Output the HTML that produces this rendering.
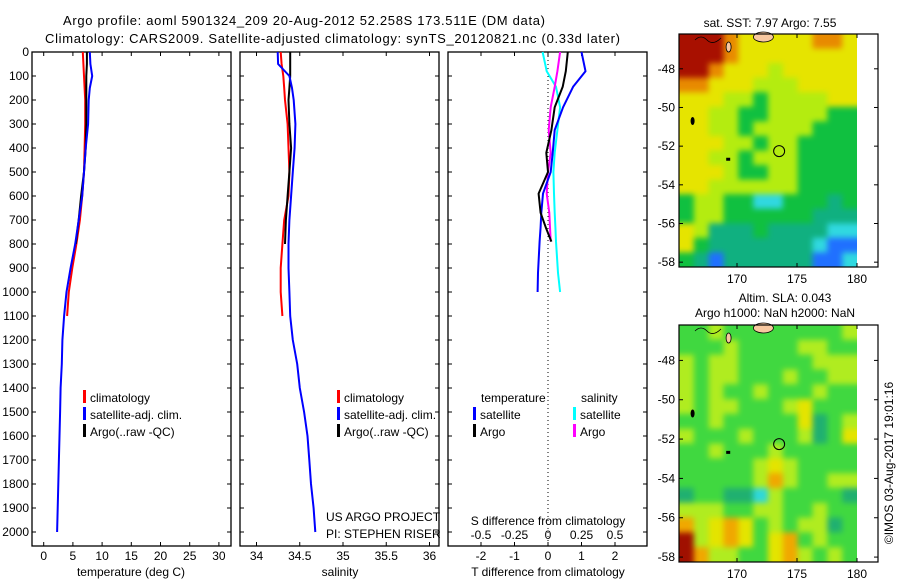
<!DOCTYPE html>
<html><head><meta charset="utf-8"><style>
body{margin:0;background:#fff;}
svg{display:block;font-family:"Liberation Sans",sans-serif;}
text{fill:#000;}
</style></head><body>
<svg id="fig" width="900" height="580" viewBox="0 0 900 580" xmlns="http://www.w3.org/2000/svg">
<defs>
<clipPath id="clip1"><rect x="679" y="34" width="178" height="233"/></clipPath>
<clipPath id="clip2"><rect x="679" y="325" width="178" height="237"/></clipPath>
</defs>
<text x="63" y="25" font-size="13" textLength="482">Argo profile: aoml 5901324_209 20-Aug-2012 52.258S 173.511E (DM data)</text>
<text x="45" y="43" font-size="13" textLength="575">Climatology: CARS2009. Satellite-adjusted climatology: synTS_20120821.nc (0.33d later)</text>
</svg>
<script>
// ---- data ----
const depthsT = [0,50,100,150,200,300,400,500,600,700,800,900,1000,1100,1200,1300,1400,1500,1600,1700,1800,1900,2000];
const tempClim = [6.7,6.8,6.9,7.0,7.1,7.1,7.0,6.9,6.6,6.2,5.6,4.9,4.3,4.0];
const tempSat = [7.9,8.0,8.3,7.9,7.7,7.6,7.2,6.9,6.6,6.0,5.4,4.6,3.9,3.5,3.2,3.1,2.9,2.8,2.7,2.6,2.5,2.4,2.3];
const tempArgo = [7.4,7.4,7.3,7.3,7.3,7.3,7.2,6.9,6.4,6.0,5.5];
const salClim = [34.28,34.29,34.31,34.32,34.33,34.36,34.37,34.38,34.37,34.32,34.30,34.28,34.28,34.30];
const salSat = [34.245,34.25,34.38,34.41,34.43,34.45,34.44,34.42,34.40,34.38,34.37,34.37,34.38,34.39,34.42,34.47,34.50,34.55,34.59,34.61,34.63,34.66,34.68];
const salArgo = [34.39,34.39,34.39,34.38,34.37,34.38,34.40,34.38,34.36,34.34,34.33];
const diffDepths = [0,80,145,230,325,420,500,590,670,730,790,920,1000];
const dTsat = [1.0,1.12,0.75,0.45,0.2,0.14,0.08,-0.15,-0.2,-0.22,-0.25,-0.3,-0.31];
const dTargo = [0.59,0.53,0.44,0.2,0.1,-0.05,0.0,-0.28,-0.22,-0.07,0.1];
const dSsat = [-0.04,-0.01,0.06,0.09,0.07,0.05,0.04,0.045,0.05,0.055,0.06,0.075,0.09];
const dSargo = [0.09,0.07,0.05,0.02,0.005,0.02,0.0,-0.01,0.01,0.015,0.02];
const depthTicks = [0,100,200,300,400,500,600,700,800,900,1000,1100,1200,1300,1400,1500,1600,1700,1800,1900,2000];
const tempTicks = [0,5,10,15,20,25,30];
const salTicks = [34,34.5,35,35.5,36];
const dTTicks = [-2,-1,0,1,2];
const dSTickLabels = ["-0.5","-0.25","0","0.25","0.5"];
const dSTicks = [-0.5,-0.25,0,0.25,0.5];
const latTicks = [-48,-50,-52,-54,-56,-58];
const lonTicks = [170,175,180];
const argoLat = -52.258, argoLon = 173.511;
// map colour grids (12 cols x 16 rows, north to south)
const sstGrid = ["dddoyyyyyooy","dddoyyyyyyyy","ddoyyylyyyyy","ooyyylllyyyy","yyyllgllllyy","yyllggllllgg","yyllgllllggg","yyyllgllgggg","yyllglllgggg","yyylggllgggg","yyllllllgggg","gllggccgggtg","gllggggggttt","yltttgttttcc","ygtttttttcbb","gtbttttttbbc"];
const slaGrid = ["gglggggggggl","ggglggggllgg","lgllggggglll","lgllggglggll","lglgglggglgg","lgllggglyggg","gglgggggytgl","lggglgggltgy","gglggglggggg","ggggglylgggg","ggggglolggll","tggttclggggt","lllggllgglgg","olyoyglglltg","dlyoygyoglgg","dollggyolglg"];
const sstCol = {d:"#a81000",o:"#e88a00",y:"#e6e400",l:"#b4ec10",g:"#10c040",t:"#10b080",c:"#30d8e0",b:"#2070ff"};
const slaCol = {d:"#a01000",o:"#f0a800",y:"#e4e400",l:"#b0ec20",g:"#40d840",t:"#20b070",c:"#30d8d8",b:"#2070ff"};

const NS = "http://www.w3.org/2000/svg";
const svg = document.getElementById('fig');
function mk(tag, attrs, parent){ const e=document.createElementNS(NS,tag); for(const k in attrs) e.setAttribute(k,attrs[k]); (parent||svg).appendChild(e); return e; }
function txt(x,y,s,size,anchor,parent){ const t=mk('text',{x:x,y:y,'font-size':size||12,'text-anchor':anchor||'start'},parent); t.textContent=s; return t; }

const TOP=52, BOT=546;
const yD = d => TOP + d*0.24;
const panels = [
 {x0:32,x1:231, f:v=>43.7+v*5.84, name:'temperature-panel'},
 {x0:240,x1:439, f:v=>256.5+(v-34)*86.5, name:'salinity-panel'},
 {x0:448,x1:647, f:v=>548+v*33.5, name:'difference-panel'}
];
const fS = v => 548 + v*134;

panels.forEach((p,i)=>{
  const g = mk('g',{});
  
  
  const r = mk('rect',{x:p.x0,y:TOP,width:p.x1-p.x0,height:BOT-TOP,fill:'none',stroke:'#000','stroke-width':1.3},g);
  
  
  depthTicks.forEach(d=>{
    mk('line',{x1:p.x0,x2:p.x0+4,y1:yD(d),y2:yD(d),stroke:'#000'},g);
    mk('line',{x1:p.x1,x2:p.x1-4,y1:yD(d),y2:yD(d),stroke:'#000'},g);
  });
});
depthTicks.forEach(d=>{
  const t = txt(29, yD(d)+4, String(d), 12, 'end');
  
  
});
function xticks(p, ticks, labels, ly){
  ticks.forEach((v,k)=>{
    const x=p.f(v);
    mk('line',{x1:x,x2:x,y1:TOP,y2:TOP+4,stroke:'#000'});
    mk('line',{x1:x,x2:x,y1:BOT,y2:BOT-4,stroke:'#000'});
    const t = txt(x, ly, labels?labels[k]:String(v), 12, 'middle');
    
    
  });
}
xticks(panels[0], tempTicks, null, 560);
xticks(panels[1], salTicks, null, 560);
xticks(panels[2], dTTicks, null, 560);
dSTicks.forEach((v,k)=>{
  const t = txt(fS(v), 539, dSTickLabels[k], 12, 'middle');
  
  
});
let t;
t=txt(131,576,'temperature (deg C)',12,'middle');  
t=txt(340,576,'salinity',12,'middle');  
t=txt(548,576,'T difference from climatology',12,'middle');  
t=txt(548,525,'S difference from climatology',12,'middle');  
const zl = mk('line',{x1:548,x2:548,y1:TOP,y2:BOT,stroke:'#000','stroke-dasharray':'1,3'});



function stepLine(vals, depths, fx, color, name){
  let d='';
  vals.forEach((v,k)=>{
    const x=fx(v), y=yD(depths[k]);
    d += (k? 'L':'M') + x.toFixed(1) + ' ' + y.toFixed(1);
  });
  const p = mk('path',{d:d,fill:'none',stroke:color,'stroke-width':2,'stroke-linejoin':'round'});
  
  
}
stepLine(tempClim, depthsT, panels[0].f, '#ff0000', 'temp-climatology-line');
stepLine(tempArgo, depthsT, panels[0].f, '#000000', 'temp-argo-line');
stepLine(tempSat, depthsT, panels[0].f, '#0000ff', 'temp-satellite-line');
stepLine(salClim, depthsT, panels[1].f, '#ff0000', 'sal-climatology-line');
stepLine(salArgo, depthsT, panels[1].f, '#000000', 'sal-argo-line');
stepLine(salSat, depthsT, panels[1].f, '#0000ff', 'sal-satellite-line');
stepLine(dSsat, diffDepths, fS, '#00ffff', 's-diff-satellite-line');
stepLine(dSargo, diffDepths, fS, '#ff00ff', 's-diff-argo-line');
stepLine(dTsat, diffDepths, panels[2].f, '#0000ff', 't-diff-satellite-line');
stepLine(dTargo, diffDepths, panels[2].f, '#000000', 't-diff-argo-line');

function legend(x, y, color, label, name){
  const g = mk('g',{});
  
  
  mk('rect',{x:x,y:y-10,width:3,height:13,fill:color},g);
  txt(x+7,y+2,label,12,'start',g);
}
legend(83,400,'#ff0000','climatology','legend-climatology');
legend(83,417,'#0000ff','satellite-adj. clim.','legend-satellite-adj');
legend(83,434,'#000000','Argo(..raw -QC)','legend-argo');
legend(337,400,'#ff0000','climatology','legend-sal-climatology');
legend(337,417,'#0000ff','satellite-adj. clim.','legend-sal-satellite-adj');
legend(337,434,'#000000','Argo(..raw -QC)','legend-sal-argo');
t=txt(481,402,'temperature',12);  
t=txt(581,402,'salinity',12);  
legend(473,417,'#0000ff','satellite','legend-t-satellite');
legend(473,434,'#000000','Argo','legend-t-argo');
legend(573,417,'#00ffff','satellite','legend-s-satellite');
legend(573,434,'#ff00ff','Argo','legend-s-argo');
t=txt(326,521,'US ARGO PROJECT',12);  
t=txt(326,538,'PI: STEPHEN RISER',12);  

function drawMap(grid, cols, top, bot, clipId, name){
  const L=679, R=878, px=12, x180=857;
  const fLon = lon => x180 + (lon-180)*px;
  const latTop = -46.2, latBot = -58.25;
  const fLat = lat => top + (latTop-lat)/(latTop-latBot)*(bot-top);
  const g = mk('g',{});
  
  
  const cg = mk('g',{'clip-path':'url(#'+clipId+')'},g);
  const bg = mk('g',{style:'filter:blur(3px)'},cg);
  const nr=grid.length, nc=grid[0].length;
  const cw=(x180-L)/nc, ch=(bot-top)/nr;
  grid.forEach((row,r)=>{
    for(let c=0;c<nc;c++){
      let x=L+c*cw, y=top+r*ch, w=cw+0.5, h=ch+0.5;
      if(c===0){x-=12;w+=12;} if(c===nc-1){w+=12;}
      if(r===0){y-=12;h+=12;} if(r===nr-1){h+=12;}
      mk('rect',{x:x,y:y,width:w,height:h,fill:cols[row[c]]||'#40d840'},bg);
    }
  });
  mk('rect',{x:x180,y:top,width:R-x180,height:bot-top,fill:'#fff'},g);
  mk('ellipse',{cx:fLon(172.2),cy:top+3,rx:10,ry:5,fill:'#f8c8a0',stroke:'#000','stroke-width':0.8},g);
  mk('path',{d:`M${fLon(166.5)} ${top+6} q6 -6 12 0 q6 6 14 -2`,fill:'none',stroke:'#000','stroke-width':0.8},g);
  mk('ellipse',{cx:fLon(169.3),cy:top+13,rx:2.5,ry:5,fill:'#f8c8a0',stroke:'#000','stroke-width':0.8},g);
  mk('ellipse',{cx:fLon(166.3),cy:fLat(-50.7),rx:2,ry:4,fill:'#000'},g);
  mk('rect',{x:fLon(169.1),y:fLat(-52.6),width:4,height:3,fill:'#000'},g);
  const c = mk('circle',{cx:fLon(argoLon),cy:fLat(argoLat),r:5.5,fill:'none',stroke:'#000','stroke-width':1},g);
  
  
  mk('rect',{x:L,y:top,width:R-L,height:bot-top,fill:'none',stroke:'#000','stroke-width':1.2},g);
  latTicks.forEach(lat=>{
    const y=fLat(lat);
    mk('line',{x1:L,x2:L+4,y1:y,y2:y,stroke:'#000'},g);
    mk('line',{x1:R,x2:R-4,y1:y,y2:y,stroke:'#000'},g);
    const tl = txt(L-4,y+4,String(lat),12,'end',g);
    
    
  });
  lonTicks.forEach(lon=>{
    const x=fLon(lon);
    mk('line',{x1:x,x2:x,y1:top,y2:top+4,stroke:'#000'},g);
    mk('line',{x1:x,x2:x,y1:bot,y2:bot-4,stroke:'#000'},g);
    const tl = txt(x,bot+16,String(lon),12,'middle',g);
    
    
  });
}
drawMap(sstGrid, sstCol, 34, 267, 'clip1', 'sst-map');
drawMap(slaGrid, slaCol, 325, 562, 'clip2', 'sla-map');
t=txt(770,27,'sat. SST: 7.97 Argo: 7.55',12,'middle');  
t=txt(785,302,'Altim. SLA: 0.043',12,'middle');  
t=txt(775,317,'Argo h1000: NaN h2000: NaN',12,'middle');  
t=mk('text',{x:0,y:0,'font-size':12,'text-anchor':'middle',transform:'translate(893,463) rotate(-90)'});
t.textContent='©IMOS 03-Aug-2017 19:01:16';


</script>
</body></html>
